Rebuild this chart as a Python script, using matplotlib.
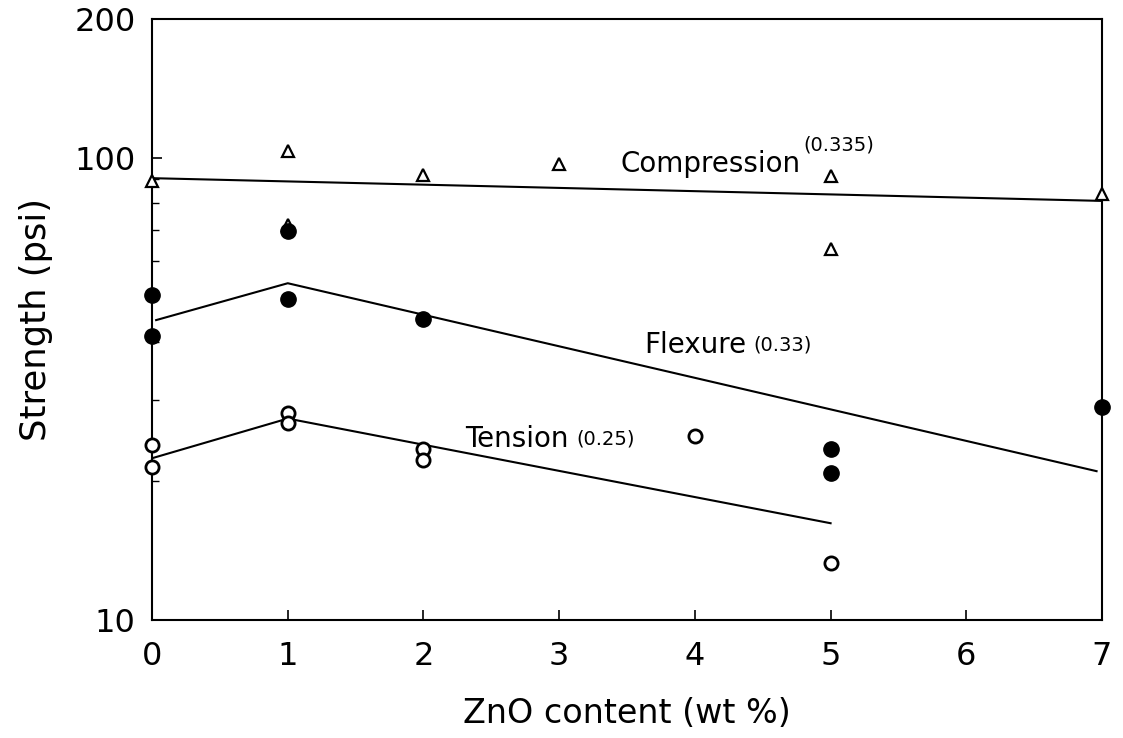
import matplotlib.pyplot as plt
from matplotlib.ticker import FixedLocator, NullFormatter
import numpy as np

# measured strengths (psi) against ZnO content (wt %)
comp_x = [0, 1, 1, 2, 3, 5, 5, 7]
comp_y = [89.2, 103.5, 71.5, 91.9, 97.0, 91.5, 63.6, 83.6]

flex_x = [0, 0, 1, 1, 2, 5, 5, 7]
flex_y = [50.5, 41.3, 69.6, 49.5, 44.8, 23.4, 20.8, 28.9]

tens_x = [0, 0, 1, 1, 2, 2, 4, 5]
tens_y = [23.9, 21.4, 28.0, 26.7, 23.4, 22.2, 25.0, 13.3]

# fitted trend lines
comp_fit_x = [0, 7]
comp_fit_y = [90.5, 80.8]
flex_fit_x = [0.03, 1, 6.96]
flex_fit_y = [44.6, 53.6, 21.0]
tens_fit_x = [0, 1, 5]
tens_fit_y = [22.4, 27.3, 16.2]

plt.rcParams['font.family'] = ['DejaVu Sans']

fig = plt.figure(figsize=(11.23, 7.38), dpi=100)
ax = fig.add_axes([0.1354, 0.1599, 0.8459, 0.8142])

ax.set_yscale('log')
ax.set_xlim(0, 7)
ax.set_ylim(10, 200)

for fx, fy in [(comp_fit_x, comp_fit_y), (flex_fit_x, flex_fit_y), (tens_fit_x, tens_fit_y)]:
    ax.plot(fx, fy, color='black', lw=1.5)

ax.plot(comp_x, comp_y, ls='none', marker='^', ms=9, mfc='white', mec='black', mew=1.6, clip_on=False, zorder=3)
ax.plot(flex_x, flex_y, ls='none', marker='o', ms=11, mfc='black', mec='black', clip_on=False, zorder=4)
ax.plot(tens_x, tens_y, ls='none', marker='o', ms=9.5, mfc='white', mec='black', mew=2.0, clip_on=False, zorder=4)

# curve names, with the exponent in brackets next to each
t_comp = ax.text(3.45, 97, 'Compression', fontsize=20, va='center', ha='left')
t_flex = ax.text(3.63, 39.3, 'Flexure', fontsize=20, va='center', ha='left')
t_tens = ax.text(2.31, 24.7, 'Tension', fontsize=20, va='center', ha='left')
ax.annotate('(0.335)', xy=(1, 1), xycoords=t_comp, xytext=(2, 4), textcoords='offset points',
            fontsize=14, va='center', ha='left')
ax.annotate('(0.33)', xy=(1, 0.5), xycoords=t_flex, xytext=(5, 0), textcoords='offset points',
            fontsize=14, va='center', ha='left')
ax.annotate('(0.25)', xy=(1, 0.5), xycoords=t_tens, xytext=(5, 0), textcoords='offset points',
            fontsize=14, va='center', ha='left')

ax.set_xticks(np.arange(0, 8))
ax.set_xticklabels(['0', '1', '2', '3', '4', '5', '6', '7'])
ax.yaxis.set_major_locator(FixedLocator([10, 100, 200]))
ax.set_yticklabels(['10', '100', '200'])
ax.yaxis.set_minor_locator(FixedLocator([20, 30, 40, 50, 60, 70, 80, 90]))
ax.yaxis.set_minor_formatter(NullFormatter())

ax.tick_params(axis='both', which='major', direction='in', length=7, width=1.2, labelsize=23)
ax.tick_params(axis='x', which='major', pad=15)
ax.tick_params(axis='y', which='major', pad=12)
ax.tick_params(axis='y', which='minor', direction='in', length=5, width=1.0)

for s in ax.spines.values():
    s.set_linewidth(1.5)

ax.set_xlabel('ZnO content (wt %)', fontsize=24, labelpad=18)
ax.set_ylabel('Strength (psi)', fontsize=25.5, labelpad=15)

fig.savefig('out.png', dpi=100)
